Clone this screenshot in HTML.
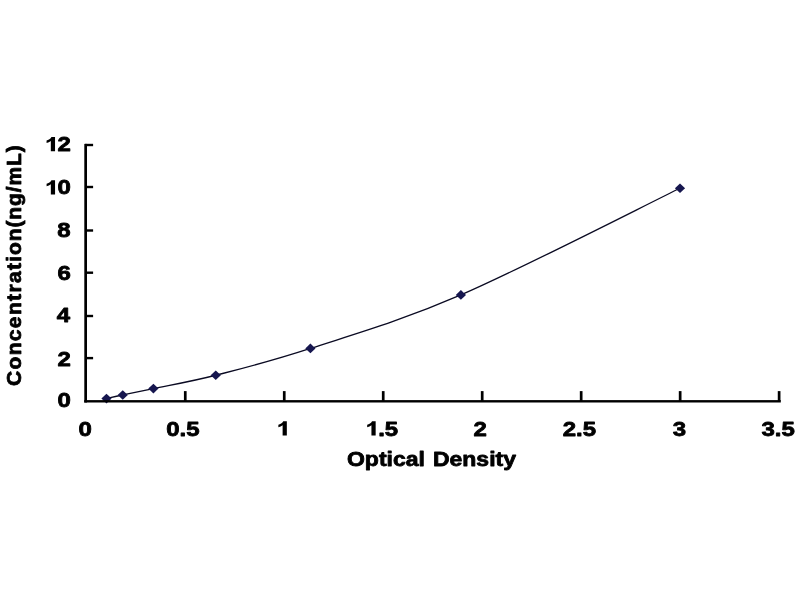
<!DOCTYPE html><html><head><meta charset="utf-8"><title>Chart</title><style>html,body{margin:0;padding:0;background:#fff;}body{width:800px;height:600px;overflow:hidden;}svg{display:block;filter:blur(0.35px);}text,.t path{font-family:"Liberation Sans",sans-serif;font-weight:bold;font-kerning:none;fill:#000;stroke:#000;stroke-width:0.8;stroke-linejoin:round;}</style></head><body>
<svg width="800" height="600" viewBox="0 0 800 600">
<rect width="800" height="600" fill="#fff"/>
<g class="t">
<g transform="translate(57.57,407.40) scale(1.1650,1)"><text x="0.000" y="0" font-size="20.6">0</text></g>
<g transform="translate(57.55,365.60) scale(1.1650,1)"><text x="0.000" y="0" font-size="20.6">2</text></g>
<g transform="translate(56.72,322.00) scale(1.1650,1)"><text x="0.000" y="0" font-size="20.6">4</text></g>
<g transform="translate(57.45,279.70) scale(1.1650,1)"><text x="0.000" y="0" font-size="20.6">6</text></g>
<g transform="translate(57.33,236.50) scale(1.1650,1)"><text x="0.000" y="0" font-size="20.6">8</text></g>
<g transform="translate(44.22,194.40) scale(1.1650,1)"><path transform="scale(0.010059,-0.009668)" d="M925 0H565V1059Q411 915 202 846V1101Q312 1137 441 1237.5T618 1472H925Z" stroke-width="79.5"/><text x="11.457" y="0" font-size="20.6">0</text></g>
<g transform="translate(44.20,151.20) scale(1.1650,1)"><path transform="scale(0.010059,-0.009668)" d="M925 0H565V1059Q411 915 202 846V1101Q312 1137 441 1237.5T618 1472H925Z" stroke-width="79.5"/><text x="11.457" y="0" font-size="20.6">2</text></g>
<g transform="translate(78.54,435.50) scale(1.1650,1)"><text x="0.000" y="0" font-size="20.6">0</text></g>
<g transform="translate(166.28,435.50) scale(1.1650,1)"><text x="0.000" y="0" font-size="20.6">0.5</text></g>
<g transform="translate(276.00,435.50) scale(1.1650,1)"><path transform="scale(0.010059,-0.009668)" d="M925 0H565V1059Q411 915 202 846V1101Q312 1137 441 1237.5T618 1472H925Z" stroke-width="79.5"/></g>
<g transform="translate(364.82,435.50) scale(1.1650,1)"><path transform="scale(0.010059,-0.009668)" d="M925 0H565V1059Q411 915 202 846V1101Q312 1137 441 1237.5T618 1472H925Z" stroke-width="79.5"/><text x="11.457" y="0" font-size="20.6">.5</text></g>
<g transform="translate(473.59,435.50) scale(1.1650,1)"><text x="0.000" y="0" font-size="20.6">2</text></g>
<g transform="translate(562.74,435.50) scale(1.1650,1)"><text x="0.000" y="0" font-size="20.6">2.5</text></g>
<g transform="translate(672.78,435.50) scale(1.1650,1)"><text x="0.000" y="0" font-size="20.6">3</text></g>
<g transform="translate(761.38,435.50) scale(1.1650,1)"><text x="0.000" y="0" font-size="20.6">3.5</text></g>
<g transform="translate(347.00,465.80) scale(1.1160,1)"><text x="0.000" y="0" font-size="20.6">Optical</text></g>
<g transform="translate(432.91,465.80) scale(1.1163,1)"><text x="0.000" y="0" font-size="20.6">Density</text></g>
<text transform="translate(21.20,386.06) rotate(-90) scale(1.0000,1.000)" font-size="21.0" stroke-width="0.6" letter-spacing="1.353" style="letter-spacing:1.353px">Concentrat</text>
<text transform="translate(21.20,261.67) rotate(-90) scale(1.0000,1.000)" font-size="21.0" stroke-width="0.6" letter-spacing="0.883" style="letter-spacing:0.883px">ion(ng/mL)</text>
</g>
<path d="M106.50 398.60 C109.21 398.00 114.93 396.67 122.75 395.00 C130.57 393.33 137.90 391.89 153.40 388.60 C168.90 385.31 189.58 381.95 215.75 375.25 C241.92 368.55 269.54 361.79 310.40 348.40 C351.26 335.01 399.30 321.59 460.90 294.90 C522.50 268.21 643.48 206.03 680.00 188.25" fill="none" stroke="#0a0a22" stroke-width="1.3"/>
<path d="M106.50 393.80 l5.1 4.8 l-5.1 4.8 l-5.1 -4.8 z" fill="#16164f"/>
<path d="M122.75 390.20 l5.1 4.8 l-5.1 4.8 l-5.1 -4.8 z" fill="#16164f"/>
<path d="M153.40 383.80 l5.1 4.8 l-5.1 4.8 l-5.1 -4.8 z" fill="#16164f"/>
<path d="M215.75 370.45 l5.1 4.8 l-5.1 4.8 l-5.1 -4.8 z" fill="#16164f"/>
<path d="M310.40 343.60 l5.1 4.8 l-5.1 4.8 l-5.1 -4.8 z" fill="#16164f"/>
<path d="M460.90 290.10 l5.1 4.8 l-5.1 4.8 l-5.1 -4.8 z" fill="#16164f"/>
<path d="M680.00 183.45 l5.1 4.8 l-5.1 4.8 l-5.1 -4.8 z" fill="#16164f"/>
<g fill="#000">
<rect x="84.3" y="143.9" width="2.7" height="258.6"/>
<rect x="84.2" y="400.1" width="696.6" height="2.4"/>
<rect x="85" y="143.80" width="8.1" height="2.4"/>
<rect x="85" y="185.80" width="8.1" height="2.4"/>
<rect x="85" y="229.30" width="8.1" height="2.4"/>
<rect x="85" y="271.50" width="8.1" height="2.4"/>
<rect x="85" y="314.80" width="8.1" height="2.4"/>
<rect x="85" y="356.90" width="8.1" height="2.4"/>
<rect x="183.92" y="391.1" width="2.7" height="10"/>
<rect x="282.90" y="391.1" width="2.7" height="10"/>
<rect x="381.87" y="391.1" width="2.7" height="10"/>
<rect x="480.85" y="391.1" width="2.7" height="10"/>
<rect x="579.82" y="391.1" width="2.7" height="10"/>
<rect x="678.80" y="391.1" width="2.7" height="10"/>
<rect x="777.77" y="391.1" width="2.7" height="10"/>
</g>
</svg></body></html>
